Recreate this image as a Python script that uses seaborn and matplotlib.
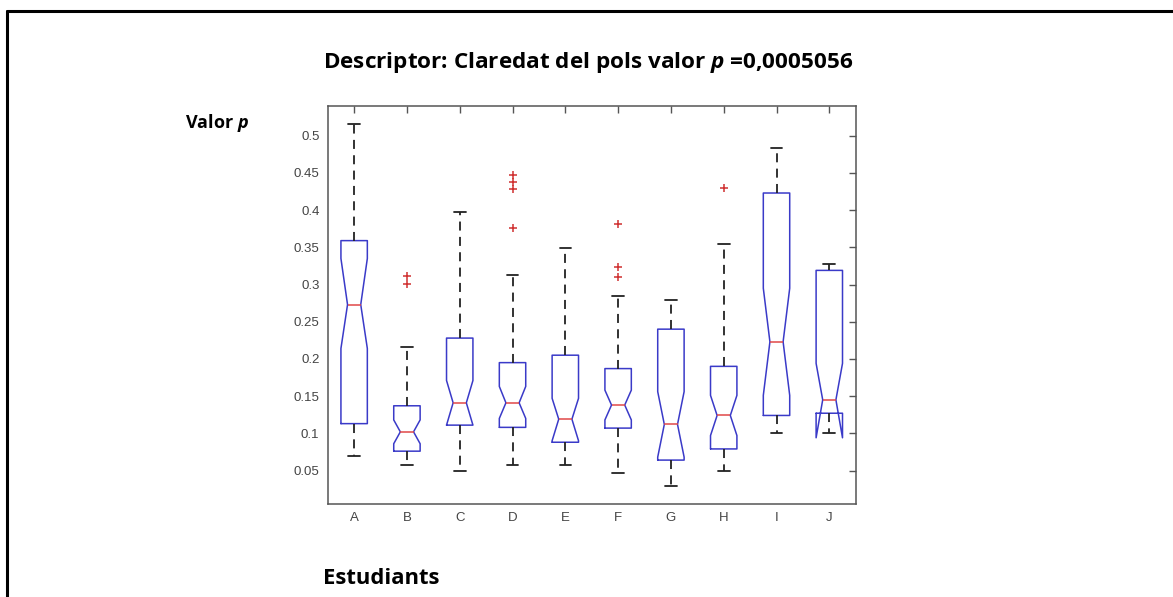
import numpy as np
import matplotlib
matplotlib.use("Agg")
import matplotlib.pyplot as plt
from matplotlib.lines import Line2D
import seaborn as sns

students = ["A", "B", "C", "D", "E", "F", "G", "H", "I", "J"]
medians = [0.273, 0.102, 0.141, 0.141, 0.119, 0.138, 0.112, 0.124, 0.223, 0.145]
q1 = [0.113, 0.076, 0.111, 0.108, 0.088, 0.107, 0.064, 0.079, 0.124, 0.127]
q3 = [0.359, 0.137, 0.228, 0.195, 0.205, 0.187, 0.240, 0.190, 0.423, 0.319]
whisk_lo = [0.070, 0.058, 0.049, 0.058, 0.058, 0.047, 0.029, 0.050, 0.100, 0.100]
whisk_hi = [0.516, 0.216, 0.397, 0.313, 0.349, 0.285, 0.279, 0.354, 0.484, 0.327]
notch_lo = [0.214, 0.086, 0.111, 0.120, 0.090, 0.118, 0.068, 0.097, 0.151, 0.094]
notch_hi = [0.335, 0.118, 0.171, 0.163, 0.147, 0.158, 0.156, 0.151, 0.295, 0.194]
outliers = [[], [0.311, 0.301], [], [0.447, 0.438, 0.428, 0.376], [],
            [0.381, 0.324, 0.310], [], [0.430], [], []]

sns.set_style("white")
plt.rcParams["font.family"] = ["Open Sans", "DejaVu Sans"]
plt.rcParams["mathtext.fontset"] = "custom"
plt.rcParams["mathtext.it"] = "Open Sans:italic:bold"
plt.rcParams["mathtext.rm"] = "Open Sans:bold"

stats = []
for i, name in enumerate(students):
    stats.append({
        "label": name, "med": medians[i], "q1": q1[i], "q3": q3[i],
        "whislo": whisk_lo[i], "whishi": whisk_hi[i],
        "cilo": notch_lo[i], "cihi": notch_hi[i], "fliers": outliers[i],
    })

fig = plt.figure(figsize=(11.73, 5.97), dpi=100)
ax = fig.add_axes([0.2794, 0.1558, 0.4501, 0.6667])

ax.bxp(stats, positions=np.arange(1, 11), widths=0.5, shownotches=True,
       capwidths=0.22,
       boxprops=dict(color="#3a3ac8", linewidth=1.1),
       medianprops=dict(color="#e04848", linewidth=1.1),
       whiskerprops=dict(color="#222222", linestyle=(0, (5, 3.5)), linewidth=1.3),
       capprops=dict(color="#222222", linewidth=1.3),
       flierprops=dict(marker="+", markeredgecolor="#d03030", markersize=6,
                       markeredgewidth=1.1, linestyle="none"))

ax.set_xlim(0.5, 10.5)
ax.set_ylim(0.005, 0.54)
ax.set_yticks([0.05, 0.1, 0.15, 0.2, 0.25, 0.3, 0.35, 0.4, 0.45, 0.5])
ax.set_yticklabels(["0.05", "0.1", "0.15", "0.2", "0.25", "0.3", "0.35", "0.4", "0.45", "0.5"])
ax.tick_params(direction="in", length=5, width=1, color="#555555",
               top=True, right=True, labelsize=9.5, labelcolor="#444444", pad=6)
for lbl in ax.get_xticklabels() + ax.get_yticklabels():
    lbl.set_family(["Liberation Sans", "DejaVu Sans"])
for sp in ax.spines.values():
    sp.set_visible(True)
    sp.set_color("#555555")
    sp.set_linewidth(1.1)

fig.text(0.501, 0.895, r"Descriptor: Claredat del pols valor $p$ =0,0005056",
         ha="center", va="center", fontsize=16.2, fontweight="bold", color="black")
fig.text(0.1577, 0.794, r"Valor $p$", ha="left", va="center",
         fontsize=13, fontweight="bold", color="black")
fig.text(0.2754, 0.0305, "Estudiants", ha="left", va="center",
         fontsize=15.8, fontweight="bold", color="black")

fig.add_artist(Line2D([0.006, 0.006], [0.0, 0.9816], color="black", linewidth=2.2))
fig.add_artist(Line2D([0.006, 1.0], [0.9816, 0.9816], color="black", linewidth=2.2))

fig.savefig("out.png", dpi=100)
